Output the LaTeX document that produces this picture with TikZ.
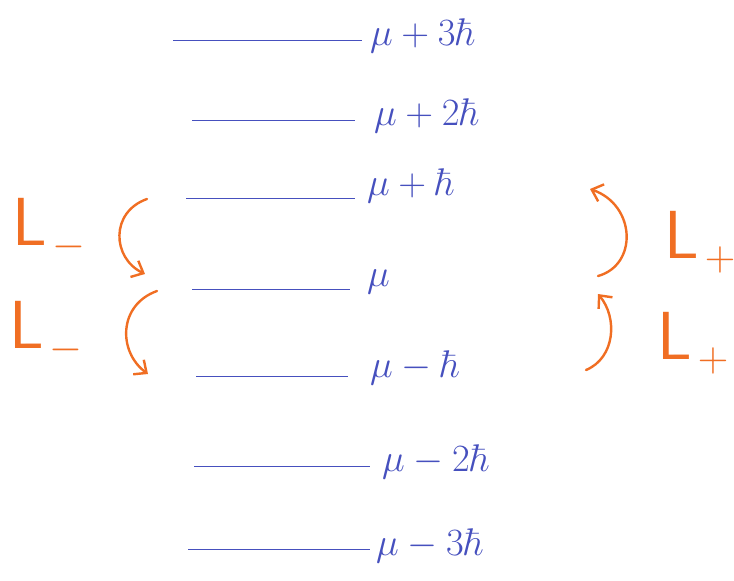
\documentclass[tikz,border=0pt]{standalone}
\usepackage{graphicx}
\usetikzlibrary{arrows.meta}
\definecolor{penblue}{RGB}{70,80,190}
\definecolor{penorange}{RGB}{240,110,35}
\newcommand{\bigmath}[1]{\scalebox{1.55}{\fontsize{24.88}{25}\selectfont$#1$}}
\newcommand{\opsub}[1]{\hspace{6pt}\raisebox{-12pt}{\scalebox{1.7}{\fontsize{24.88}{25}\selectfont$#1$}}}
\begin{document}
\begin{tikzpicture}[x=1pt,y=-1pt,
  level/.style={draw=penblue, line width=1pt},
  lab/.style={anchor=west, text=penblue, inner sep=0pt},
  ladder/.style={draw=penorange, line width=2.4pt, line cap=round, -{Straight Barb[length=10pt,width=18pt,line width=2.4pt]}},
  oplab/.style={text=penorange, inner sep=0pt, font=\fontsize{68}{68}\selectfont\sffamily}]
\useasboundingbox (0,0) rectangle (734,581);
% levels
\coordinate (a1) at (173,40);  \coordinate (b1) at (362,40);
\coordinate (a2) at (192,120); \coordinate (b2) at (355,120);
\coordinate (a3) at (186,198); \coordinate (b3) at (355,198);
\coordinate (a4) at (192,289); \coordinate (b4) at (350,289);
\coordinate (a5) at (196,376); \coordinate (b5) at (348,376);
\coordinate (a6) at (194,466); \coordinate (b6) at (370,466);
\coordinate (a7) at (188,549); \coordinate (b7) at (370,549);
\foreach \i in {1,...,7} {\draw[level] (a\i) -- (b\i);}
\node[lab] (t1) at (370,36)  {\bigmath{\mu + 3\hbar}};
\node[lab] (t2) at (374,116) {\bigmath{\mu + 2\hbar}};
\node[lab] (t3) at (367,186) {\bigmath{\mu + \hbar}};
\node[lab] (t4) at (367,282) {\bigmath{\mu}};
\node[lab] (t5) at (370,368) {\bigmath{\mu - \hbar}};
\node[lab] (t6) at (382,462) {\bigmath{\mu - 2\hbar}};
\node[lab] (t7) at (376,546) {\bigmath{\mu - 3\hbar}};
% lowering arrows
\coordinate (ls1) at (147,199); \coordinate (le1) at (145,274);
\coordinate (ls2) at (157,291); \coordinate (le2) at (148,374);
\draw[ladder] (ls1) .. controls (110,212) and (112,258) .. (le1);
\draw[ladder] (ls2) .. controls (118,305) and (118,352) .. (le2);
\node[oplab, anchor=west] (lm1) at (12,230) {L\opsub{-}};
\node[oplab, anchor=west] (lm2) at (9,333) {L\opsub{-}};
% raising arrows
\coordinate (rs1) at (598,276); \coordinate (re1) at (590,189);
\coordinate (rs2) at (586,370); \coordinate (re2) at (598,294);
\draw[ladder] (rs1) .. controls (638,265) and (636,205) .. (re1);
\draw[ladder] (rs2) .. controls (615,358) and (618,318) .. (re2);
\node[oplab, anchor=west] (lp1) at (664,242) {L\opsub{+}};
\node[oplab, anchor=west] (lp2) at (657,343) {L\opsub{+}};
\end{tikzpicture}
\end{document}
